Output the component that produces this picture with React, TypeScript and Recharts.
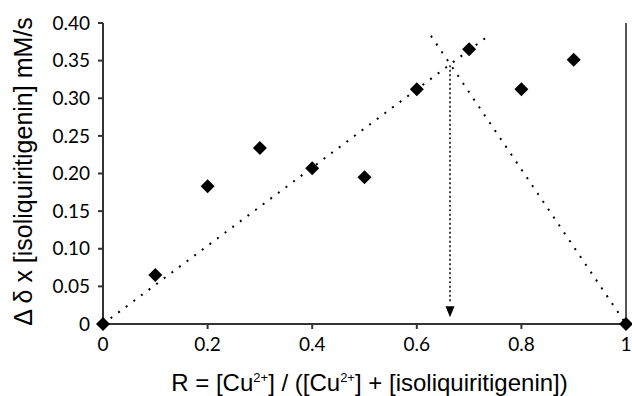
import {
  ScatterChart,
  Scatter,
  XAxis,
  YAxis,
  ReferenceLine,
  ReferenceDot,
  Label,
} from "recharts";

// Job plot: R values and measured rates
const ratioValues = [0, 0.1, 0.2, 0.3, 0.4, 0.5, 0.6, 0.7, 0.8, 0.9, 1.0];
const rateValues = [0, 0.065, 0.183, 0.234, 0.207, 0.195, 0.312, 0.365, 0.312, 0.351, 0];

const xTicks = [0, 0.2, 0.4, 0.6, 0.8, 1];
const yTicks = [0, 0.05, 0.1, 0.15, 0.2, 0.25, 0.3, 0.35, 0.4];

// Hand-drawn trend lines (start, end)
const risingLine = [
  { x: 0, y: 0 },
  { x: 0.735, y: 0.382 },
];
const fallingLine = [
  { x: 0.627, y: 0.383 },
  { x: 1, y: 0 },
];
// Intersection marker (arrow down to x axis)
const arrowX = 0.6635;
const arrowTop = 0.344;
const arrowTip = 0.009;
const arrowShaftEnd = 0.03;

const points = ratioValues.map((x, i) => ({ x, y: rateValues[i] }));

const AXIS = "#333";
const TICK_FONT = "Lato, 'Open Sans', sans-serif";
const LABEL_FONT = "'Liberation Sans', Arial, sans-serif";

function Diamond(props: any) {
  const { cx, cy } = props;
  if (cx == null || cy == null) return null;
  const r = 7;
  return (
    <polygon
      points={`${cx},${cy - r} ${cx + r},${cy} ${cx},${cy + r} ${cx - r},${cy}`}
      fill="#000"
    />
  );
}

function ArrowHead(props: any) {
  const { cx, cy } = props;
  if (cx == null || cy == null) return null;
  return <polygon points={`${cx},${cy} ${cx - 4.5},${cy - 11} ${cx + 4.5},${cy - 11}`} fill="#000" />;
}

function YLabel(props: any) {
  const vb = props.viewBox || { x: 0, y: 0, width: 0, height: 0 };
  const cx = 23;
  const cy = vb.y + vb.height / 2 - 2;
  return (
    <text
      x={cx}
      y={cy}
      transform={`rotate(-90, ${cx}, ${cy})`}
      textAnchor="middle"
      dominantBaseline="central"
      fontFamily={LABEL_FONT}
      fontSize={25}
      fill="#000"
    >
      Δ δ x [isoliquiritigenin] mM/s
    </text>
  );
}

function XLabel(props: any) {
  const vb = props.viewBox || { x: 0, y: 0, width: 0, height: 0 };
  const cx = vb.x + vb.width / 2 + 5;
  return (
    <text x={cx} y={391} textAnchor="middle" fontFamily={LABEL_FONT} fontSize={24} fill="#000">
      R = [Cu
      <tspan dy={-9} fontSize={13}>2+</tspan>
      <tspan dy={9}>] / ([Cu</tspan>
      <tspan dy={-9} fontSize={13}>2+</tspan>
      <tspan dy={9}>] + [isoliquiritigenin])</tspan>
    </text>
  );
}

export default function App() {
  return (
    <div style={{ position: "absolute", left: 0, top: 0, background: "#fff" }}>
      <ScatterChart width={632} height={396} margin={{ top: 23, right: 6, left: 0, bottom: 0 }}>
        <XAxis
          type="number"
          dataKey="x"
          domain={[0, 1]}
          ticks={xTicks}
          tickFormatter={(v) => String(v)}
          height={72}
          stroke={AXIS}
          strokeWidth={2}
          tickSize={5}
          tickMargin={9}
          tick={{ fontSize: 19, fontFamily: TICK_FONT, fill: "#000" }}
        >
          <Label content={<XLabel />} />
        </XAxis>
        <YAxis
          type="number"
          dataKey="y"
          domain={[0, 0.4]}
          ticks={yTicks}
          tickFormatter={(v) => (v === 0 ? "0" : v.toFixed(2))}
          width={103}
          stroke={AXIS}
          strokeWidth={2}
          tickSize={5}
          tickMargin={8}
          tick={{ fontSize: 19, fontFamily: TICK_FONT, fill: "#000" }}
        >
          <Label content={<YLabel />} />
        </YAxis>
        <ReferenceLine x={1} stroke="#555" strokeWidth={2} />
        <ReferenceLine
          segment={risingLine}
          stroke="#000"
          strokeWidth={2}
          strokeDasharray="2 7.5"
        />
        <ReferenceLine
          segment={fallingLine}
          stroke="#000"
          strokeWidth={2}
          strokeDasharray="2 7.5"
        />
        <ReferenceLine
          segment={[
            { x: arrowX, y: arrowTop },
            { x: arrowX, y: arrowShaftEnd },
          ]}
          stroke="#000"
          strokeWidth={1.5}
          strokeDasharray="2 2.5"
        />
        <ReferenceDot x={arrowX} y={arrowTip} r={0} shape={<ArrowHead />} />
        <Scatter data={points} shape={<Diamond />} isAnimationActive={false} />
      </ScatterChart>
    </div>
  );
}
